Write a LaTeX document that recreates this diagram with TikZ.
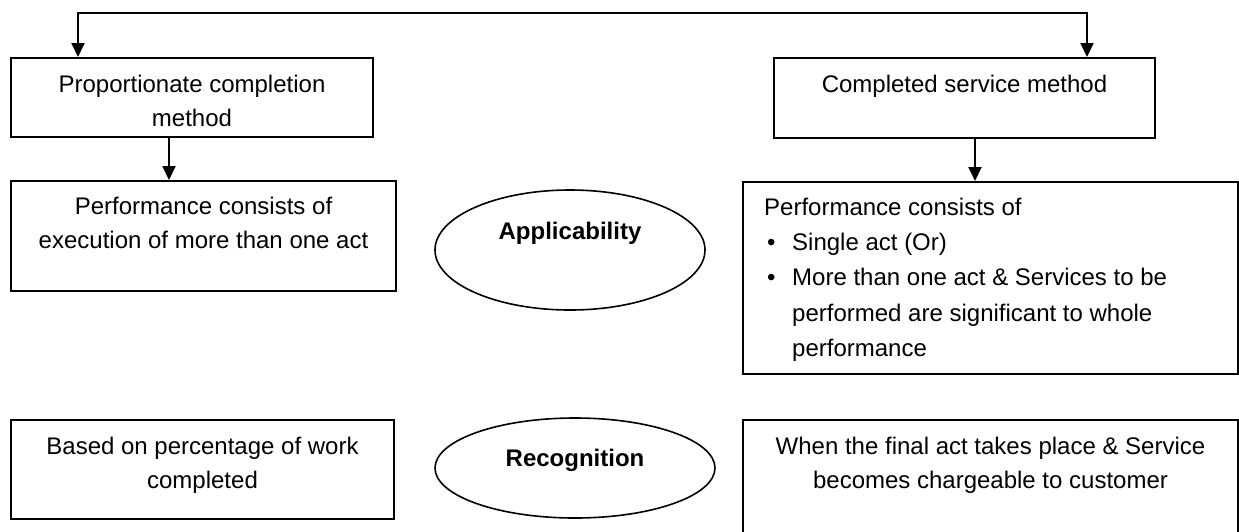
\documentclass[tikz,border=0pt]{standalone}
\usepackage{fontspec}
\setmainfont{Liberation Sans}
\usetikzlibrary{positioning,shapes.geometric,arrows.meta}

\tikzset{
  box/.style={draw, line width=2pt, inner sep=0pt, anchor=north west},
  boxtext/.style={inner sep=0pt, align=center, font=\fontsize{24}{34}\selectfont},
  oval/.style={draw, ellipse, line width=1.6pt, inner sep=0pt},
  ovaltext/.style={inner sep=0pt, font=\fontsize{24}{34}\selectfont\bfseries},
  link/.style={line width=2pt}
}

\begin{document}
\begin{tikzpicture}[x=1pt,y=-1pt,>={Triangle[length=14pt,width=13pt]}]
\useasboundingbox (0,0) rectangle (1239,531);

% proportionate completion method (left)
\node[box, minimum width=362pt, minimum height=79pt] (pcm) at (10,57) {};
\node[boxtext, below=18pt of pcm.north] (pcmtxt) {Proportionate completion\\method};
\node[box, minimum width=385pt, minimum height=110pt] (pca) at (10,180) {};
\node[boxtext, below=17pt of pca.north] (pcatxt) {Performance consists of\\execution of more than one act};
\node[box, minimum width=383pt, minimum height=99pt] (pcr) at (10,419) {};
\node[boxtext, below=18pt of pcr.north] (pcrtxt) {Based on percentage of work\\completed};

% completed service method (right)
\node[box, minimum width=381pt, minimum height=80pt] (csm) at (773,57) {};
\node[boxtext, below=18pt of csm.north] (csmtxt) {Completed service method};
\node[box, minimum width=495pt, minimum height=192pt] (csa) at (742,181) {};
\node[boxtext, align=left, anchor=north west, font=\fontsize{24}{35.2}\selectfont] (csatxt)
  at ([xshift=22pt,yshift=-17pt]csa.north west)
  {Performance consists of\\
   \hspace*{3pt}\makebox[25pt][l]{\textbullet}Single act (Or)\\
   \hspace*{3pt}\makebox[25pt][l]{\textbullet}More than one act \& Services to be\\
   \hspace*{28pt}performed are significant to whole\\
   \hspace*{28pt}performance};
\node[box, minimum width=495pt, minimum height=130pt] (csr) at (742,419) {};
\node[boxtext, below=18pt of csr.north] (csrtxt) {When the final act takes place \& Service\\becomes chargeable to customer};

% middle ovals
\node[oval, minimum width=270pt, minimum height=120pt] (app) at (570,250) {};
\node[ovaltext] (apptxt) at ([yshift=17pt]app.center) {Applicability};
\node[oval, minimum width=280pt, minimum height=100pt] (rec) at (575,468) {};
\node[ovaltext] (rectxt) at ([yshift=8pt]rec.center) {Recognition};

% connectors
\coordinate (ltop) at (78,13);
\coordinate (rtop) at (1087,13);
\draw[link,<->] (ltop |- pcm.north) -- (ltop) -- (rtop) -- (rtop |- csm.north);
\draw[link,->] ([xshift=-23pt]pcm.south) -- ([xshift=-23pt]pcm.south |- pca.north);
\draw[link,->] ([xshift=10.5pt]csm.south) -- ([xshift=10.5pt]csm.south |- csa.north);
\end{tikzpicture}
\end{document}
